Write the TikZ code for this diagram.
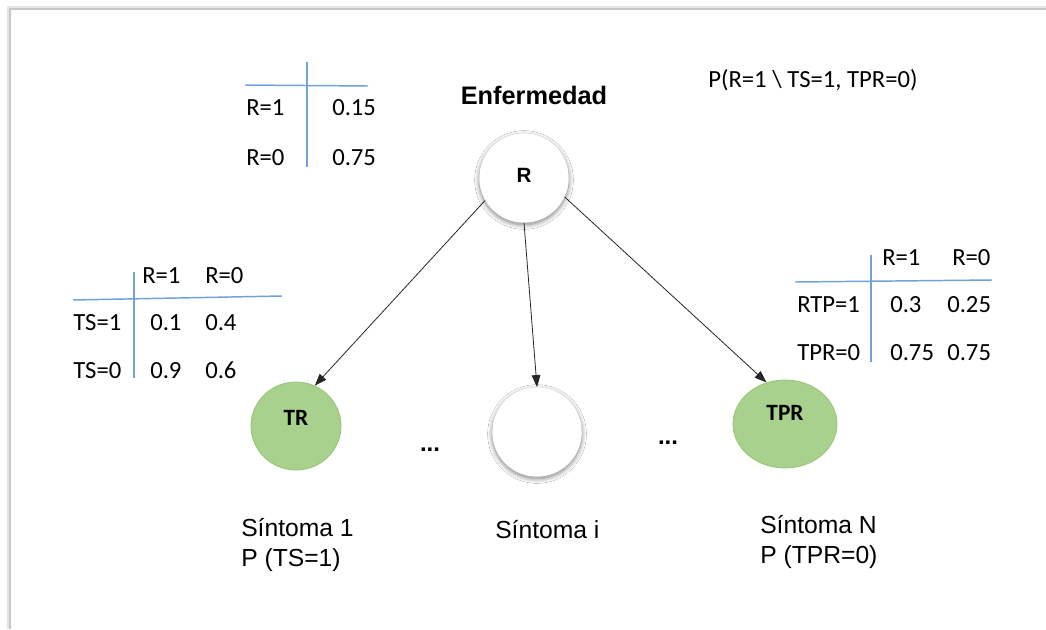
\documentclass[tikz,border=0pt]{standalone}
\usepackage{fontspec}
\setmainfont{Liberation Sans}
\newfontfamily\calibri{Carlito}
\usetikzlibrary{arrows.meta,shapes.geometric,shadows.blur}

\definecolor{nodegreen}{RGB}{169,209,142}
\definecolor{nodegreenline}{RGB}{150,196,122}
\definecolor{tabblue}{RGB}{112,162,216}

\begin{document}
\begin{tikzpicture}[x=0.75pt,y=-0.75pt,
    tab/.style={font=\calibri\fontsize{18.5}{22}\selectfont, inner sep=0pt, anchor=base west},
    tabline/.style={tabblue, line width=1.1pt},
    lbl/.style={font=\fontsize{18.5}{22.5}\selectfont, inner sep=0pt, anchor=base west, align=left},
    whitenode/.style={circle, fill=white, minimum size=67pt, inner sep=0pt,
        blur shadow={shadow xshift=0pt, shadow yshift=-1.5pt, shadow blur radius=3.5pt,
            shadow blur steps=14, shadow opacity=50}},
    greennode/.style={ellipse, fill=nodegreen, draw=nodegreenline, line width=0.6pt, inner sep=0pt},
    link/.style={-{Triangle[length=9pt,width=6.5pt]}, line width=0.6pt, black!85}]

    \useasboundingbox[fill=white] (0,0) rectangle (1046,629);
    % page edge
    \draw[black!10, line width=3pt] (9,629) -- (9,8) -- (1046,8);
    \draw[black!22, line width=1pt] (10,629) -- (10,9) -- (1046,9);

    % the network
    \node[whitenode, font=\bfseries\fontsize{15.5}{17}\selectfont, text depth=4pt] (R) at (524,178) {R};
    \node[font=\bfseries\fontsize{19}{23}\selectfont, anchor=base] (enf) at (534,104) {Enfermedad};
    \node[greennode, minimum width=67.5pt, minimum height=66pt,
        label={[yshift=6pt, font=\calibri\bfseries\fontsize{17.5}{19}\selectfont]center:TR}] (TR) at (296,426) {};
    \node[whitenode] (Si) at (537,432) {};
    \node[greennode, minimum width=78pt, minimum height=66pt,
        label={[yshift=8pt, font=\calibri\bfseries\fontsize{17.5}{19}\selectfont]center:TPR}] (TPR) at (785,424) {};

    \draw[link] (R.210) -- (TR.65);
    \draw[link] (R.south) -- (Si.north);
    \draw[link] (R.-25) -- (TPR.114);

    \node[font=\bfseries\fontsize{18}{20}\selectfont, anchor=base] (dotsA) at (430,451) {...};
    \node[font=\bfseries\fontsize{18}{20}\selectfont, anchor=base] (dotsB) at (668,444) {...};

    \node[lbl] (s1) at (241,566) {Síntoma 1\\P (TS=1)};
    \node[lbl] (si) at (495,538) {Síntoma i};
    \node[lbl] (sN) at (760,563) {Síntoma N\\P (TPR=0)};

    % query
    \node[tab] (query) at (708,87) {P(R=1 \textbackslash\ TS=1, TPR=0)};

    % P(R)
    \draw[tabline] (245,85) -- (368,86);
    \draw[tabline] (307,62) -- (307,167);
    \node[tab] (pr1) at (246,115) {R=1};
    \node[tab] (pv1) at (332,115) {0.15};
    \node[tab] (pr0) at (246,165) {R=0};
    \node[tab] (pv0) at (332,165) {0.75};

    % P(TS | R)
    \draw[tabline] (73,300) -- (282,296);
    \draw[tabline] (134,272) -- (134,378);
    \node[tab] (ta1) at (142,283) {R=1};
    \node[tab] (ta0) at (205,283) {R=0};
    \node[tab] (ts1) at (73,330) {TS=1};
    \node[tab] (ts1a) at (150,330) {0.1};
    \node[tab] (ts1b) at (205,330) {0.4};
    \node[tab] (ts0) at (73,378) {TS=0};
    \node[tab] (ts0a) at (150,378) {0.9};
    \node[tab] (ts0b) at (205,378) {0.6};

    % P(TPR | R)
    \draw[tabline] (795,282) -- (992,280);
    \draw[tabline] (871,255) -- (871,362);
    \node[tab] (tb1) at (882,265) {R=1};
    \node[tab] (tb0) at (952,265) {R=0};
    \node[tab] (tp1) at (797,312) {RTP=1};
    \node[tab] (tp1a) at (890,312) {0.3};
    \node[tab] (tp1b) at (947,312) {0.25};
    \node[tab] (tp0) at (797,360) {TPR=0};
    \node[tab] (tp0a) at (890,360) {0.75};
    \node[tab] (tp0b) at (947,360) {0.75};
\end{tikzpicture}
\end{document}
